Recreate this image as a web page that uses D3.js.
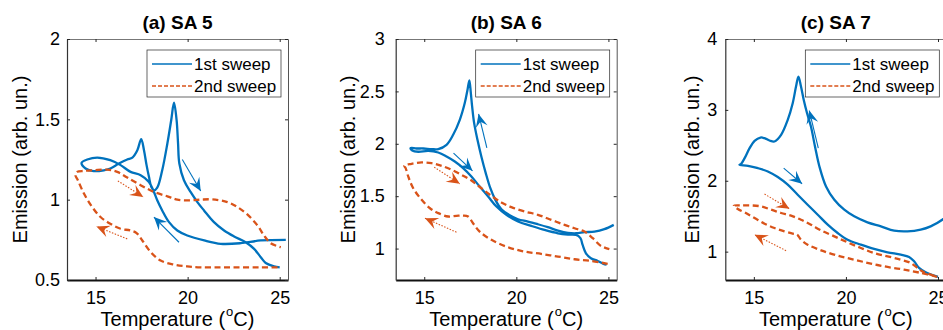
<!DOCTYPE html>
<html>
<head>
<meta charset="utf-8">
<script src="https://cdn.jsdelivr.net/npm/d3@7"></script>
<style>
  body { margin: 0; background: #fff; }
  svg { display: block; font-family: "Liberation Sans", Arial, sans-serif; }
</style>
</head>
<body>
<div id="chart"></div>
<script>
// [temperature (C), emission (arb. un.)]
const sa5Sweep1 = [[25.33,0.750],[23.97,0.746],[22.88,0.729],[21.80,0.725],[20.90,0.746],[19.98,0.777],[19.44,0.808],[18.99,0.860],[18.62,0.933],[18.35,0.996],[18.17,1.048],[17.90,1.110],[17.45,1.152],[16.90,1.173],[16.36,1.215],[15.80,1.246],[15.09,1.262],[14.55,1.250],[14.24,1.229],[14.46,1.194],[14.82,1.179],[15.45,1.183],[15.80,1.194],[16.27,1.225],[16.72,1.250],[17.00,1.262],[17.27,1.308],[17.48,1.377],[17.63,1.308],[17.77,1.215],[17.90,1.142],[18.03,1.079],[18.17,1.058],[18.35,1.075],[18.62,1.183],[18.90,1.350],[19.11,1.496],[19.26,1.604],[19.40,1.496],[19.48,1.350],[19.55,1.225],[19.80,1.121],[20.16,1.048],[20.53,0.985],[20.89,0.933],[21.43,0.860],[21.98,0.808],[22.52,0.771],[23.15,0.735],[23.61,0.694],[23.97,0.642],[24.24,0.606],[24.69,0.585],[25.00,0.579]];
const sa5Sweep2 = [[24.88,0.579],[23.97,0.579],[22.88,0.579],[21.80,0.579],[20.70,0.579],[19.98,0.585],[19.26,0.596],[18.53,0.621],[18.00,0.673],[17.54,0.746],[17.23,0.792],[16.90,0.808],[16.36,0.819],[15.80,0.850],[15.27,0.892],[14.82,0.954],[14.37,1.038],[14.04,1.121],[13.91,1.152],[14.00,1.173],[14.37,1.179],[14.91,1.183],[15.63,1.187],[16.18,1.173],[16.72,1.138],[17.45,1.090],[18.17,1.048],[18.90,1.021],[19.44,1.000],[20.16,0.996],[20.70,1.000],[21.34,1.002],[22.16,0.985],[22.70,0.954],[23.24,0.908],[23.79,0.840],[24.15,0.777],[24.51,0.729],[25.06,0.704]];

const sa6Sweep1 = [[25.29,1.226],[24.78,1.185],[24.24,1.162],[23.70,1.156],[23.25,1.146],[22.80,1.150],[22.26,1.172],[21.71,1.204],[21.17,1.232],[20.63,1.258],[20.09,1.280],[19.64,1.318],[19.19,1.376],[18.86,1.465],[18.59,1.576],[18.34,1.720],[18.10,1.879],[17.89,2.038],[17.71,2.197],[17.60,2.357],[17.53,2.484],[17.45,2.605],[17.35,2.516],[17.20,2.389],[16.93,2.229],[16.57,2.086],[16.21,1.990],[15.76,1.949],[15.40,1.949],[14.95,1.955],[14.58,1.955],[14.26,1.959],[14.35,1.936],[14.68,1.924],[15.22,1.933],[15.76,1.917],[16.21,1.879],[16.66,1.831],[17.11,1.768],[17.56,1.688],[18.01,1.592],[18.47,1.497],[18.92,1.401],[19.46,1.322],[20.09,1.258],[20.81,1.217],[21.53,1.178],[22.26,1.146],[22.80,1.134],[23.25,1.130],[23.48,1.100],[23.60,1.035],[23.78,0.955],[24.05,0.908],[24.42,0.882],[24.73,0.854],[24.90,0.848]];
const sa6Sweep2 = [[24.96,0.854],[24.06,0.882],[23.16,0.898],[22.26,0.924],[21.35,0.949],[20.45,0.971],[19.55,1.013],[18.65,1.083],[18.01,1.162],[17.65,1.242],[17.38,1.306],[17.11,1.315],[16.75,1.312],[16.30,1.306],[15.76,1.338],[15.31,1.385],[14.86,1.465],[14.40,1.576],[14.13,1.688],[13.99,1.768],[13.92,1.790],[14.31,1.809],[14.86,1.822],[15.40,1.815],[15.94,1.790],[16.48,1.752],[17.02,1.704],[17.56,1.650],[18.10,1.576],[18.65,1.503],[19.19,1.440],[19.73,1.395],[20.45,1.354],[21.17,1.322],[21.90,1.274],[22.62,1.226],[23.16,1.194],[23.70,1.162],[24.15,1.099],[24.60,1.025],[25.05,0.994]];

const sa7Sweep1 = [[25.45,1.500],[25.29,1.460],[24.60,1.357],[24.06,1.310],[23.34,1.286],[22.62,1.296],[21.90,1.357],[21.17,1.413],[20.45,1.498],[19.91,1.592],[19.37,1.732],[18.92,1.920],[18.56,2.202],[18.32,2.484],[18.10,2.765],[17.89,2.953],[17.71,3.141],[17.56,3.329],[17.42,3.470],[17.29,3.329],[17.11,3.094],[16.84,2.859],[16.48,2.648],[16.12,2.554],[15.85,2.568],[15.58,2.601],[15.36,2.610],[15.04,2.563],[14.77,2.460],[14.50,2.319],[14.31,2.239],[14.22,2.225],[14.68,2.211],[15.22,2.178],[15.76,2.131],[16.30,2.052],[16.84,1.944],[17.38,1.803],[17.92,1.662],[18.47,1.521],[19.01,1.380],[19.55,1.263],[20.09,1.169],[20.81,1.099],[21.53,1.038],[22.26,0.991],[22.98,0.958],[23.43,0.925],[23.70,0.864],[23.97,0.770],[24.33,0.709],[24.78,0.662],[25.00,0.645]];
const sa7Sweep2 = [[24.96,0.643],[24.06,0.700],[23.16,0.746],[22.26,0.784],[21.35,0.831],[20.45,0.887],[19.55,0.944],[18.65,1.019],[17.92,1.099],[17.56,1.169],[17.35,1.239],[17.11,1.254],[16.66,1.286],[16.12,1.333],[15.58,1.394],[15.04,1.474],[14.50,1.554],[14.13,1.601],[13.92,1.648],[14.31,1.652],[14.86,1.652],[15.40,1.638],[15.94,1.592],[16.48,1.545],[17.02,1.507],[17.56,1.451],[18.10,1.380],[18.65,1.300],[19.37,1.216],[20.09,1.131],[20.81,1.052],[21.53,0.981],[22.26,0.934],[22.98,0.887],[23.52,0.840],[23.88,0.770],[24.24,0.709],[24.78,0.662],[24.96,0.643]];

// direction arrows: [t0, e0, t1, e1], head at (t1, e1)
const sa5ArrowsBlue = [[19.71,1.250,20.71,1.054],[19.53,0.735,18.17,0.892]];
const sa5ArrowsOrange = [[16.21,1.117,17.59,1.017],[16.72,0.756,15.05,0.833]];
const sa6ArrowsBlue = [[18.40,1.960,17.95,2.285],[16.59,1.911,17.62,1.742]];
const sa6ArrowsOrange = [[15.54,1.777,16.93,1.618],[16.75,1.156,15.04,1.290]];
const sa7ArrowsBlue = [[18.50,2.460,18.01,2.990],[16.62,2.178,17.62,1.958]];
const sa7ArrowsOrange = [[15.58,1.812,16.93,1.606],[16.75,1.014,15.04,1.239]];

const titles = ['(a) SA 5', '(b) SA 6', '(c) SA 7'];
const legendLabels = ['1st sweep', '2nd sweep'];
const xTicks = [15, 20, 25];
const xDomain = [13.45, 25.45];
const sa5YTicks = [0.5, 1, 1.5, 2];
const sa6YTicks = [1, 1.5, 2, 2.5, 3];
const sa7YTicks = [1, 2, 3, 4];
const sa5YDomain = [0.5, 2];
const sa6YDomain = [0.7, 3];
const sa7YDomain = [0.6, 4];

const BLUE = '#0072BD';
const ORANGE = '#D95319';

class Panel {

    constructor(svg, opts) {
        this.svg = svg;
        this.id = opts.id;
        this.left = opts.left;
        this.top = 39;
        this.width = 221;
        this.height = 241;
        this.labelOffset = opts.labelOffset;
        this.opts = opts;
        this.draw();
    }

    draw() {
        this.g = this.svg.append('g')
            .attr('transform', `translate(${this.left},${this.top})`);

        this.g.append('clipPath').attr('id', 'clip-' + this.id)
          .append('rect')
            .attr('width', this.width)
            .attr('height', this.height);

        this.createScales();
        this.addAxes();
        this.addLines();
        this.addArrows();
        this.addLegend();
        this.addLabels();
    }

    createScales() {
        this.x = d3.scaleLinear().domain(xDomain).range([0, this.width]);
        this.y = d3.scaleLinear().domain(this.opts.yDomain).range([this.height, 0]);
    }

    addAxes() {
        const h = this.height, w = this.width;

        const xb = this.g.append('g').attr('class', 'x axis')
            .attr('transform', `translate(0,${h})`)
            .call(d3.axisBottom(this.x).tickValues(xTicks).tickSizeInner(-3).tickSizeOuter(0).tickPadding(11).tickFormat(d3.format('')));
        const xt = this.g.append('g')
            .call(d3.axisTop(this.x).tickValues(xTicks).tickSizeInner(-3).tickSizeOuter(0).tickFormat(''));
        const yl = this.g.append('g').attr('class', 'y axis')
            .call(d3.axisLeft(this.y).tickValues(this.opts.yTicks).tickSizeInner(-3).tickSizeOuter(0).tickPadding(this.opts.tickPad).tickFormat(d => String(d)));
        const yr = this.g.append('g')
            .attr('transform', `translate(${w},0)`)
            .call(d3.axisRight(this.y).tickValues(this.opts.yTicks).tickSizeInner(-3).tickSizeOuter(0).tickFormat(''));

        [xb, xt, yl, yr].forEach(a => {
            a.selectAll('line').attr('stroke', '#262626');
            a.selectAll('text').attr('fill', '#000').style('font-size', '18px').style('font-family', null);
        });
        xb.select('.domain').attr('stroke', '#111').attr('stroke-width', 2);
        yl.select('.domain').attr('stroke', '#333').attr('stroke-width', 1.2);
        xt.select('.domain').attr('stroke', '#777').attr('stroke-width', 1);
        yr.select('.domain').attr('stroke', '#555').attr('stroke-width', 1);
    }

    addLines() {
        const line = d3.line()
            .x(d => this.x(d[0]))
            .y(d => this.y(d[1]))
            .curve(d3.curveCatmullRom.alpha(0.5));

        const lines = this.g.append('g').attr('clip-path', `url(#clip-${this.id})`);

        lines.append('path')
            .datum(this.opts.sweep1)
            .attr('d', line)
            .attr('fill', 'none')
            .attr('stroke', BLUE)
            .attr('stroke-width', 2.3)
            .attr('stroke-linejoin', 'round');

        lines.append('path')
            .datum(this.opts.sweep2)
            .attr('d', line)
            .attr('fill', 'none')
            .attr('stroke', ORANGE)
            .attr('stroke-width', 2.3)
            .attr('stroke-dasharray', '6,3.5');
    }

    addArrows() {
        const self = this;
        // filled head with a notched back, drawn at the end of each shaft
        const head = (sel, color) => {
            sel.each(function(d) {
                const x0 = self.x(d[0]), y0 = self.y(d[1]);
                const x1 = self.x(d[2]), y1 = self.y(d[3]);
                const a = Math.atan2(y1 - y0, x1 - x0);
                const L = 13, W = 6, B = 8;
                const pt = (dx, dy) => [x1 + dx * Math.cos(a) - dy * Math.sin(a), y1 + dx * Math.sin(a) + dy * Math.cos(a)];
                const p = [pt(0, 0), pt(-L, -W), pt(-B, 0), pt(-L, W)];
                d3.select(this).append('path')
                    .attr('d', 'M' + p.map(q => q.join(',')).join('L') + 'Z')
                    .attr('fill', color);
            });
        };

        const ab = this.g.selectAll('.arrow-blue')
            .data(this.opts.arrowsBlue)
          .enter().append('g');
        ab.append('line')
            .attr('x1', d => this.x(d[0])).attr('y1', d => this.y(d[1]))
            .attr('x2', d => this.x(d[2])).attr('y2', d => this.y(d[3]))
            .attr('stroke', BLUE).attr('stroke-width', 1.1);
        head(ab, BLUE);

        const ao = this.g.selectAll('.arrow-orange')
            .data(this.opts.arrowsOrange)
          .enter().append('g');
        ao.append('line')
            .attr('x1', d => this.x(d[0])).attr('y1', d => this.y(d[1]))
            .attr('x2', d => this.x(d[2])).attr('y2', d => this.y(d[3]))
            .attr('stroke', ORANGE).attr('stroke-width', 1.1)
            .attr('stroke-dasharray', '1.5,1.5');
        head(ao, ORANGE);
    }

    addLegend() {
        const lw = 134, lh = 47;
        const lg = this.g.append('g')
            .attr('transform', `translate(${this.width - 7 - lw},11)`);
        lg.append('rect')
            .attr('width', lw).attr('height', lh)
            .attr('fill', '#fff')
            .attr('stroke', '#262626').attr('stroke-width', 0.7);

        const rows = lg.selectAll('.row')
            .data(legendLabels)
          .enter().append('g')
            .attr('transform', (d, i) => `translate(0,${14 + i * 22})`);
        rows.append('line')
            .attr('x1', 5).attr('x2', 45)
            .attr('stroke', (d, i) => i === 0 ? BLUE : ORANGE)
            .attr('stroke-width', 1.3)
            .attr('stroke-dasharray', (d, i) => i === 0 ? null : '4,2');
        rows.append('text')
            .attr('x', 47)
            .attr('dy', '0.35em')
            .style('font-size', '17px')
            .text(d => d);
    }

    addLabels() {
        const cx = this.width / 2;

        this.g.append('text')
            .attr('x', cx).attr('y', -10)
            .attr('text-anchor', 'middle')
            .style('font-size', '19px')
            .style('font-weight', 'bold')
            .text(this.opts.title);

        const xl = this.g.append('text')
            .attr('x', cx).attr('y', this.height + 46)
            .attr('text-anchor', 'middle')
            .style('font-size', '20px');
        xl.append('tspan').text('Temperature (');
        xl.append('tspan').attr('dx', 1).attr('dy', -10).style('font-size', '13px').text('o');
        xl.append('tspan').attr('dy', 10).text('C)');

        this.g.append('text')
            .attr('transform', `translate(${-this.labelOffset},${this.height / 2}) rotate(-90)`)
            .attr('text-anchor', 'middle')
            .attr('dy', '0.35em')
            .style('font-size', '20px')
            .text('Emission (arb. un.)');
    }
}

const svg = d3.select('#chart').append('svg')
    .attr('width', 943)
    .attr('height', 330);

new Panel(svg, { id: 'a', left: 67, labelOffset: 47, tickPad: 7, title: titles[0],
    yDomain: sa5YDomain, yTicks: sa5YTicks, sweep1: sa5Sweep1, sweep2: sa5Sweep2,
    arrowsBlue: sa5ArrowsBlue, arrowsOrange: sa5ArrowsOrange });
new Panel(svg, { id: 'b', left: 395.7, labelOffset: 47.5, tickPad: 11, title: titles[1],
    yDomain: sa6YDomain, yTicks: sa6YTicks, sweep1: sa6Sweep1, sweep2: sa6Sweep2,
    arrowsBlue: sa6ArrowsBlue, arrowsOrange: sa6ArrowsOrange });
new Panel(svg, { id: 'c', left: 725.3, labelOffset: 33, tickPad: 8, title: titles[2],
    yDomain: sa7YDomain, yTicks: sa7YTicks, sweep1: sa7Sweep1, sweep2: sa7Sweep2,
    arrowsBlue: sa7ArrowsBlue, arrowsOrange: sa7ArrowsOrange });
</script>
</body>
</html>
